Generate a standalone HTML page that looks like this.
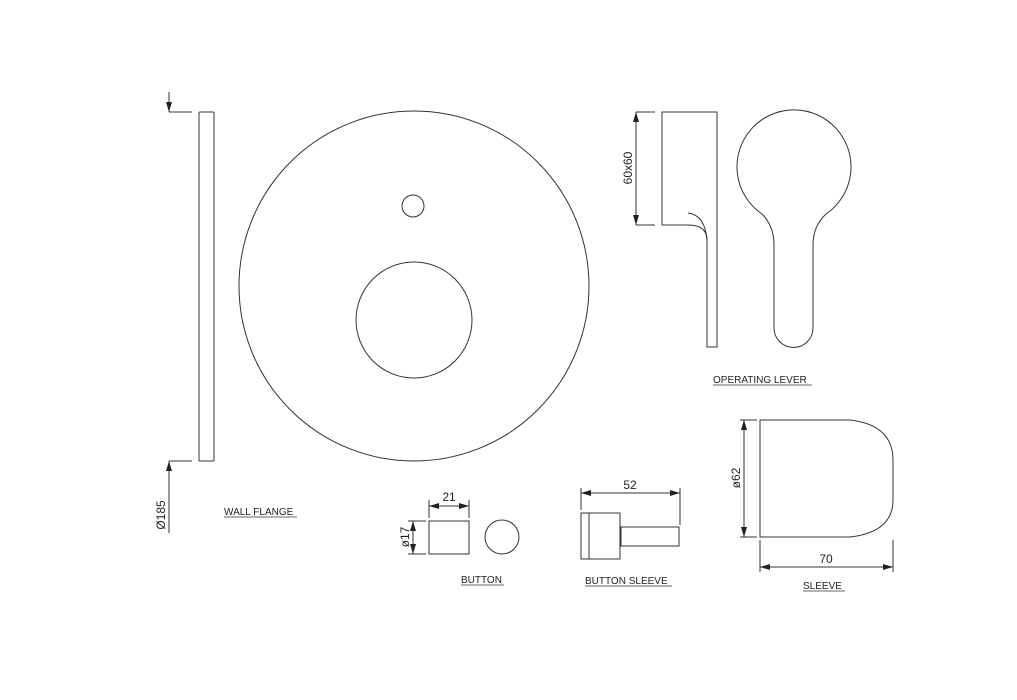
<!DOCTYPE html>
<html><head><style>body{margin:0;background:#fff}svg{display:block}text{font-family:"Liberation Sans",sans-serif;fill:#222}</style></head><body>
<svg width="1017" height="700" viewBox="0 0 1017 700" xmlns="http://www.w3.org/2000/svg">
<defs><marker id="a" viewBox="0 0 10 6" refX="10" refY="3" markerWidth="10" markerHeight="6" orient="auto-start-reverse" markerUnits="userSpaceOnUse"><path d="M0,0L10,3L0,6z" fill="#222"/></marker></defs>
<g fill="none" stroke="#333" stroke-width="1">
<rect x="199" y="112" width="15" height="349" rx="1"/>
<line x1="169" y1="112" x2="192" y2="112"/><line x1="169" y1="92" x2="169" y2="112" marker-end="url(#a)"/>
<line x1="169" y1="461" x2="192" y2="461"/><line x1="169" y1="533" x2="169" y2="461" marker-end="url(#a)"/>
<circle cx="414" cy="286" r="175"/><circle cx="413" cy="206" r="11"/><circle cx="414" cy="320" r="58"/>
<path d="M662,112H717V347H707V240Q707,225 688,225H662Z"/>
<path d="M688,213Q705,215 707,240"/>
<line x1="636" y1="112" x2="655" y2="112"/><line x1="636" y1="225" x2="655" y2="225"/>
<line x1="636" y1="112" x2="636" y2="225" marker-start="url(#a)" marker-end="url(#a)"/>
<path d="M762,214A57,57 0 1 1 826,214Q813,226 813,245V328A19.5,19.5 0 0 1 774,328V245Q774,226 762,214Z"/>
<rect x="429" y="521" width="40" height="33"/><circle cx="502" cy="537" r="17"/>
<line x1="429" y1="500" x2="429" y2="518"/><line x1="469" y1="500" x2="469" y2="518"/>
<line x1="429" y1="506" x2="469" y2="506" marker-start="url(#a)" marker-end="url(#a)"/>
<line x1="408" y1="521" x2="426" y2="521"/><line x1="408" y1="554" x2="426" y2="554"/>
<line x1="413" y1="521" x2="413" y2="554" marker-start="url(#a)" marker-end="url(#a)"/>
<rect x="581" y="513" width="8" height="46"/><rect x="589" y="513" width="31" height="46"/><rect x="621" y="527" width="58" height="19"/>
<line x1="581" y1="488" x2="581" y2="510"/><line x1="680" y1="488" x2="680" y2="525"/>
<line x1="581" y1="493" x2="680" y2="493" marker-start="url(#a)" marker-end="url(#a)"/>
<path d="M760,420H850Q893,425 893,460V500Q893,532 850,537H760Z"/>
<line x1="740" y1="420" x2="757" y2="420"/><line x1="740" y1="537" x2="757" y2="537"/>
<line x1="744" y1="420" x2="744" y2="537" marker-start="url(#a)" marker-end="url(#a)"/>
<line x1="760" y1="540" x2="760" y2="572"/><line x1="893" y1="540" x2="893" y2="572"/>
<line x1="760" y1="567" x2="893" y2="567" marker-start="url(#a)" marker-end="url(#a)"/>
</g>
<g font-size="12">
<text transform="translate(165,515) rotate(-90)" text-anchor="middle">Ø185</text>
<text transform="translate(632,168) rotate(-90)" text-anchor="middle">60x60</text>
<text transform="translate(409,537) rotate(-90)" text-anchor="middle">ø17</text>
<text transform="translate(740,478) rotate(-90)" text-anchor="middle">ø62</text>
<text x="449" y="501" text-anchor="middle">21</text>
<text x="630" y="489" text-anchor="middle">52</text>
<text x="826" y="563" text-anchor="middle">70</text>
</g>
<g font-size="10">
<text x="224" y="515">WALL FLANGE</text>
<text x="713" y="383">OPERATING LEVER</text>
<text x="461" y="583">BUTTON</text>
<text x="585" y="584">BUTTON SLEEVE</text>
<text x="803" y="589">SLEEVE</text>
</g>
<g stroke="#333" stroke-width="0.8">
<line x1="224" y1="517" x2="297" y2="517"/><line x1="713" y1="385" x2="812" y2="385"/>
<line x1="461" y1="585" x2="504" y2="585"/><line x1="585" y1="586" x2="672" y2="586"/><line x1="803" y1="591" x2="845" y2="591"/>
</g>
</svg>
</body></html>
